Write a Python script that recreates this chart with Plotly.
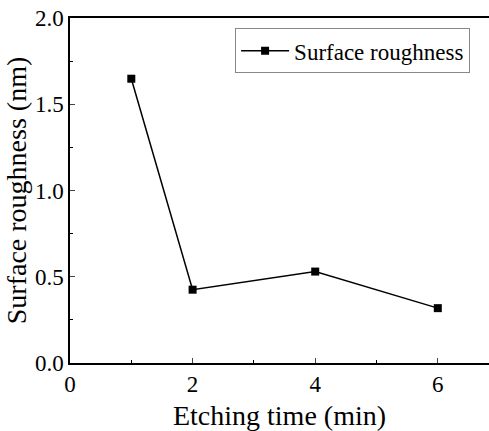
import plotly.graph_objects as go

etching_time = [1, 2, 4, 6]
roughness = [1.648, 0.425, 0.53, 0.318]
series_name = "Surface roughness"

fig = go.Figure()
fig.add_trace(go.Scatter(
    x=etching_time, y=roughness, mode="lines+markers", name=series_name,
    line=dict(color="black", width=1.5),
    marker=dict(symbol="square", size=8, color="black"),
))

font = dict(family="Liberation Serif, Times New Roman, serif", size=23, color="black")
fig.update_layout(
    width=489, height=431,
    margin=dict(l=70, r=0, t=18, b=68),
    paper_bgcolor="white", plot_bgcolor="white",
    font=font,
    showlegend=True,
    legend=dict(x=0.394, y=0.97, xanchor="left", yanchor="top",
                bordercolor="#888888", borderwidth=1, bgcolor="white",
                font=dict(family=font["family"], size=23, color="black"),
                itemwidth=48, tracegroupgap=0),
)
fig.update_xaxes(
    range=[0, 6.835], tickvals=[0, 2, 4, 6], ticks="inside", ticklen=5, tickwidth=1.2,
    showline=True, linecolor="black", linewidth=1.5, mirror=True,
    showgrid=False, zeroline=False,
    minor=dict(ticks="inside", ticklen=3, tickvals=[1, 3, 5], tickcolor="black"),
    title=dict(text="Etching time (min)", standoff=13),
)
fig.update_yaxes(
    range=[0, 2.0], tickvals=[0, 0.5, 1.0, 1.5, 2.0], tickformat=".1f",
    ticks="inside", ticklen=5, tickwidth=1.2,
    showline=True, linecolor="black", linewidth=1.5,
    showgrid=False, zeroline=False,
    minor=dict(ticks="inside", ticklen=3, tickvals=[0.25, 0.75, 1.25, 1.75], tickcolor="black"),
    title=dict(text="Surface roughness (nm)", standoff=0),
)
fig.write_html("out.html")
